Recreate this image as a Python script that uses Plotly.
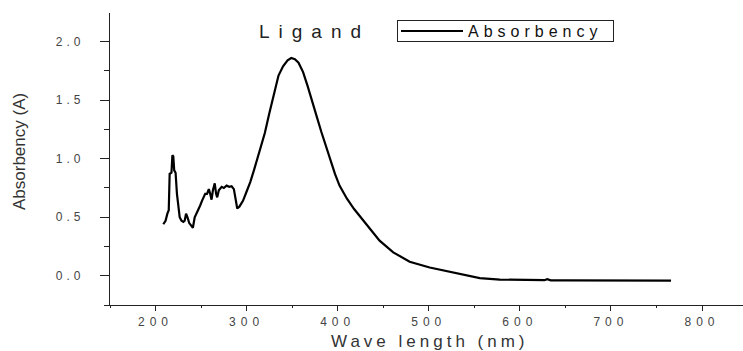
import plotly.graph_objects as go

# ---- data ----
wavelength_nm = [208.5, 211, 213, 214.5, 215.5, 217.5, 218.5, 219.5, 220.5, 222, 223.5, 225, 226.5,
                 228.5, 230.5, 232, 233.5, 235, 237, 239, 241, 243, 245, 247, 249, 251, 253, 254.5,
                 256.5, 258.5, 260, 261.5, 263, 265, 266.5, 267.7, 269.5, 272.6, 275, 278, 281, 283.5,
                 286, 287.5, 289.7, 292, 296, 300, 304, 308, 312, 316, 320, 325,
                 330, 335, 340, 345, 349, 353, 357, 362, 367, 372, 377, 382, 387, 392, 397, 402,
                 410, 418, 426, 435, 446, 461, 479, 501, 527, 556, 578, 600, 627, 630, 634, 650,
                 700, 766]
absorbency = [0.44, 0.47, 0.53, 0.56, 0.87, 0.88, 1.03, 1.02, 0.90, 0.88, 0.70, 0.62, 0.50,
              0.47, 0.46, 0.47, 0.53, 0.50, 0.45, 0.43, 0.41, 0.50, 0.53, 0.57, 0.60, 0.64, 0.68, 0.70,
              0.70, 0.74, 0.70, 0.65, 0.73, 0.79, 0.70, 0.67, 0.73, 0.76, 0.75, 0.77, 0.76, 0.765,
              0.74, 0.68, 0.575, 0.59, 0.64, 0.72, 0.80, 0.90, 1.00, 1.11, 1.22, 1.39,
              1.56, 1.71, 1.79, 1.84, 1.86, 1.85, 1.82, 1.74, 1.62, 1.48, 1.36, 1.23, 1.11, 0.98, 0.87, 0.77,
              0.66, 0.57, 0.49, 0.40, 0.30, 0.20, 0.12, 0.07, 0.025, -0.02, -0.033, -0.036, -0.038, -0.030,
              -0.040, -0.040, -0.042, -0.042]

series_name = "Absorbency"
chart_title = "Ligand"
x_title = "Wave length (nm)"
y_title = "Absorbency (A)"
x_ticks = [200, 300, 400, 500, 600, 700, 800]
y_ticks = [0.0, 0.5, 1.0, 1.5, 2.0]
y_tick_text = ["0.0", "0.5", "1.0", "1.5", "2.0"]

W, H = 743, 351
L, R, T, B = 110, 0, 13, 46
pw, ph = W - L - R, H - T - B


def px_x(p):
    return (p - L) / pw


def px_y(p):
    return (H - B - p) / ph


fig = go.Figure()
fig.add_trace(go.Scatter(x=wavelength_nm, y=absorbency, mode="lines", name=series_name,
                         line=dict(color="#000000", width=2.2)))

axis_font = dict(family="Liberation Sans, Arial, sans-serif", size=12, color="#444444")
fig.update_layout(
    width=W, height=H,
    margin=dict(l=L, r=R, t=T, b=B, autoexpand=False),
    paper_bgcolor="white", plot_bgcolor="white",
    showlegend=True,
    legend=dict(x=px_x(397), y=px_y(20), xanchor="left", yanchor="top",
                orientation="h", entrywidth=170, entrywidthmode="pixels",
                bgcolor="white", bordercolor="#222222", borderwidth=1,
                font=dict(family="Liberation Sans, Arial, sans-serif", size=16, color="#111111"),
                itemwidth=30, tracegroupgap=0),
    xaxis=dict(range=[150, 845], tickvals=x_ticks, showline=True, linecolor="#222222", linewidth=1.3,
               ticks="outside", ticklen=5, tickwidth=1.3, tickcolor="#222222",
               showgrid=False, zeroline=False, tickfont=axis_font, automargin=False,
               minor=dict(ticks="outside", ticklen=2, tickwidth=1.3, tickcolor="#222222",
                          dtick=50, tick0=150, showgrid=False)),
    yaxis=dict(range=[-0.25, 2.245], tickvals=y_ticks, ticktext=y_tick_text, showline=True,
               linecolor="#222222", linewidth=1.3,
               ticks="outside", ticklen=9, tickwidth=1.3, tickcolor="#222222",
               showgrid=False, zeroline=False, tickfont=axis_font, automargin=False,
               ticklabelstandoff=13,
               minor=dict(ticks="outside", ticklen=5, tickwidth=1.3, tickcolor="#222222",
                          dtick=0.25, tick0=0, showgrid=False)),
    annotations=[
        dict(text=chart_title, x=px_x(314), y=px_y(31), xref="paper", yref="paper",
             showarrow=False, xanchor="center", yanchor="middle",
             font=dict(family="Liberation Sans, Arial, sans-serif", size=19, color="#222222")),
        dict(text=x_title, x=px_x(430), y=px_y(341), xref="paper", yref="paper",
             showarrow=False, xanchor="center", yanchor="middle",
             font=dict(family="Liberation Sans, Arial, sans-serif", size=17, color="#333333")),
        dict(text=y_title, x=px_x(19), y=px_y(152), xref="paper", yref="paper",
             showarrow=False, xanchor="center", yanchor="middle", textangle=-90,
             font=dict(family="Liberation Sans Narrow, Liberation Sans, Arial, sans-serif",
                       size=17, color="#333333")),
    ],
)

post = """
var gd = document.getElementById('{plot_id}');
function ls(sel, v){ gd.querySelectorAll(sel).forEach(function(t){ t.setAttribute('letter-spacing', v); }); }
ls('.xtick text', '5px');
ls('.ytick text', '4px');
ls('.annotation[data-index="0"] text', '9px');
ls('.annotation[data-index="1"] text', '4px');
// Origin-style legend: longer line sample, wide-spaced label, compact box
gd.querySelectorAll('.legend .legendtext').forEach(function(t){
  t.setAttribute('letter-spacing', '5px'); t.setAttribute('x', '70');
});
gd.querySelectorAll('.legend .legendlines path').forEach(function(p){ p.setAttribute('d', 'M3,0h62'); });
gd.querySelectorAll('.legend rect.bg').forEach(function(r){ r.setAttribute('height', '21'); });
gd.querySelectorAll('.legend .traces').forEach(function(g){ g.setAttribute('transform', 'translate(1,11)'); });
"""

fig.write_html("out.html", post_script=post)
